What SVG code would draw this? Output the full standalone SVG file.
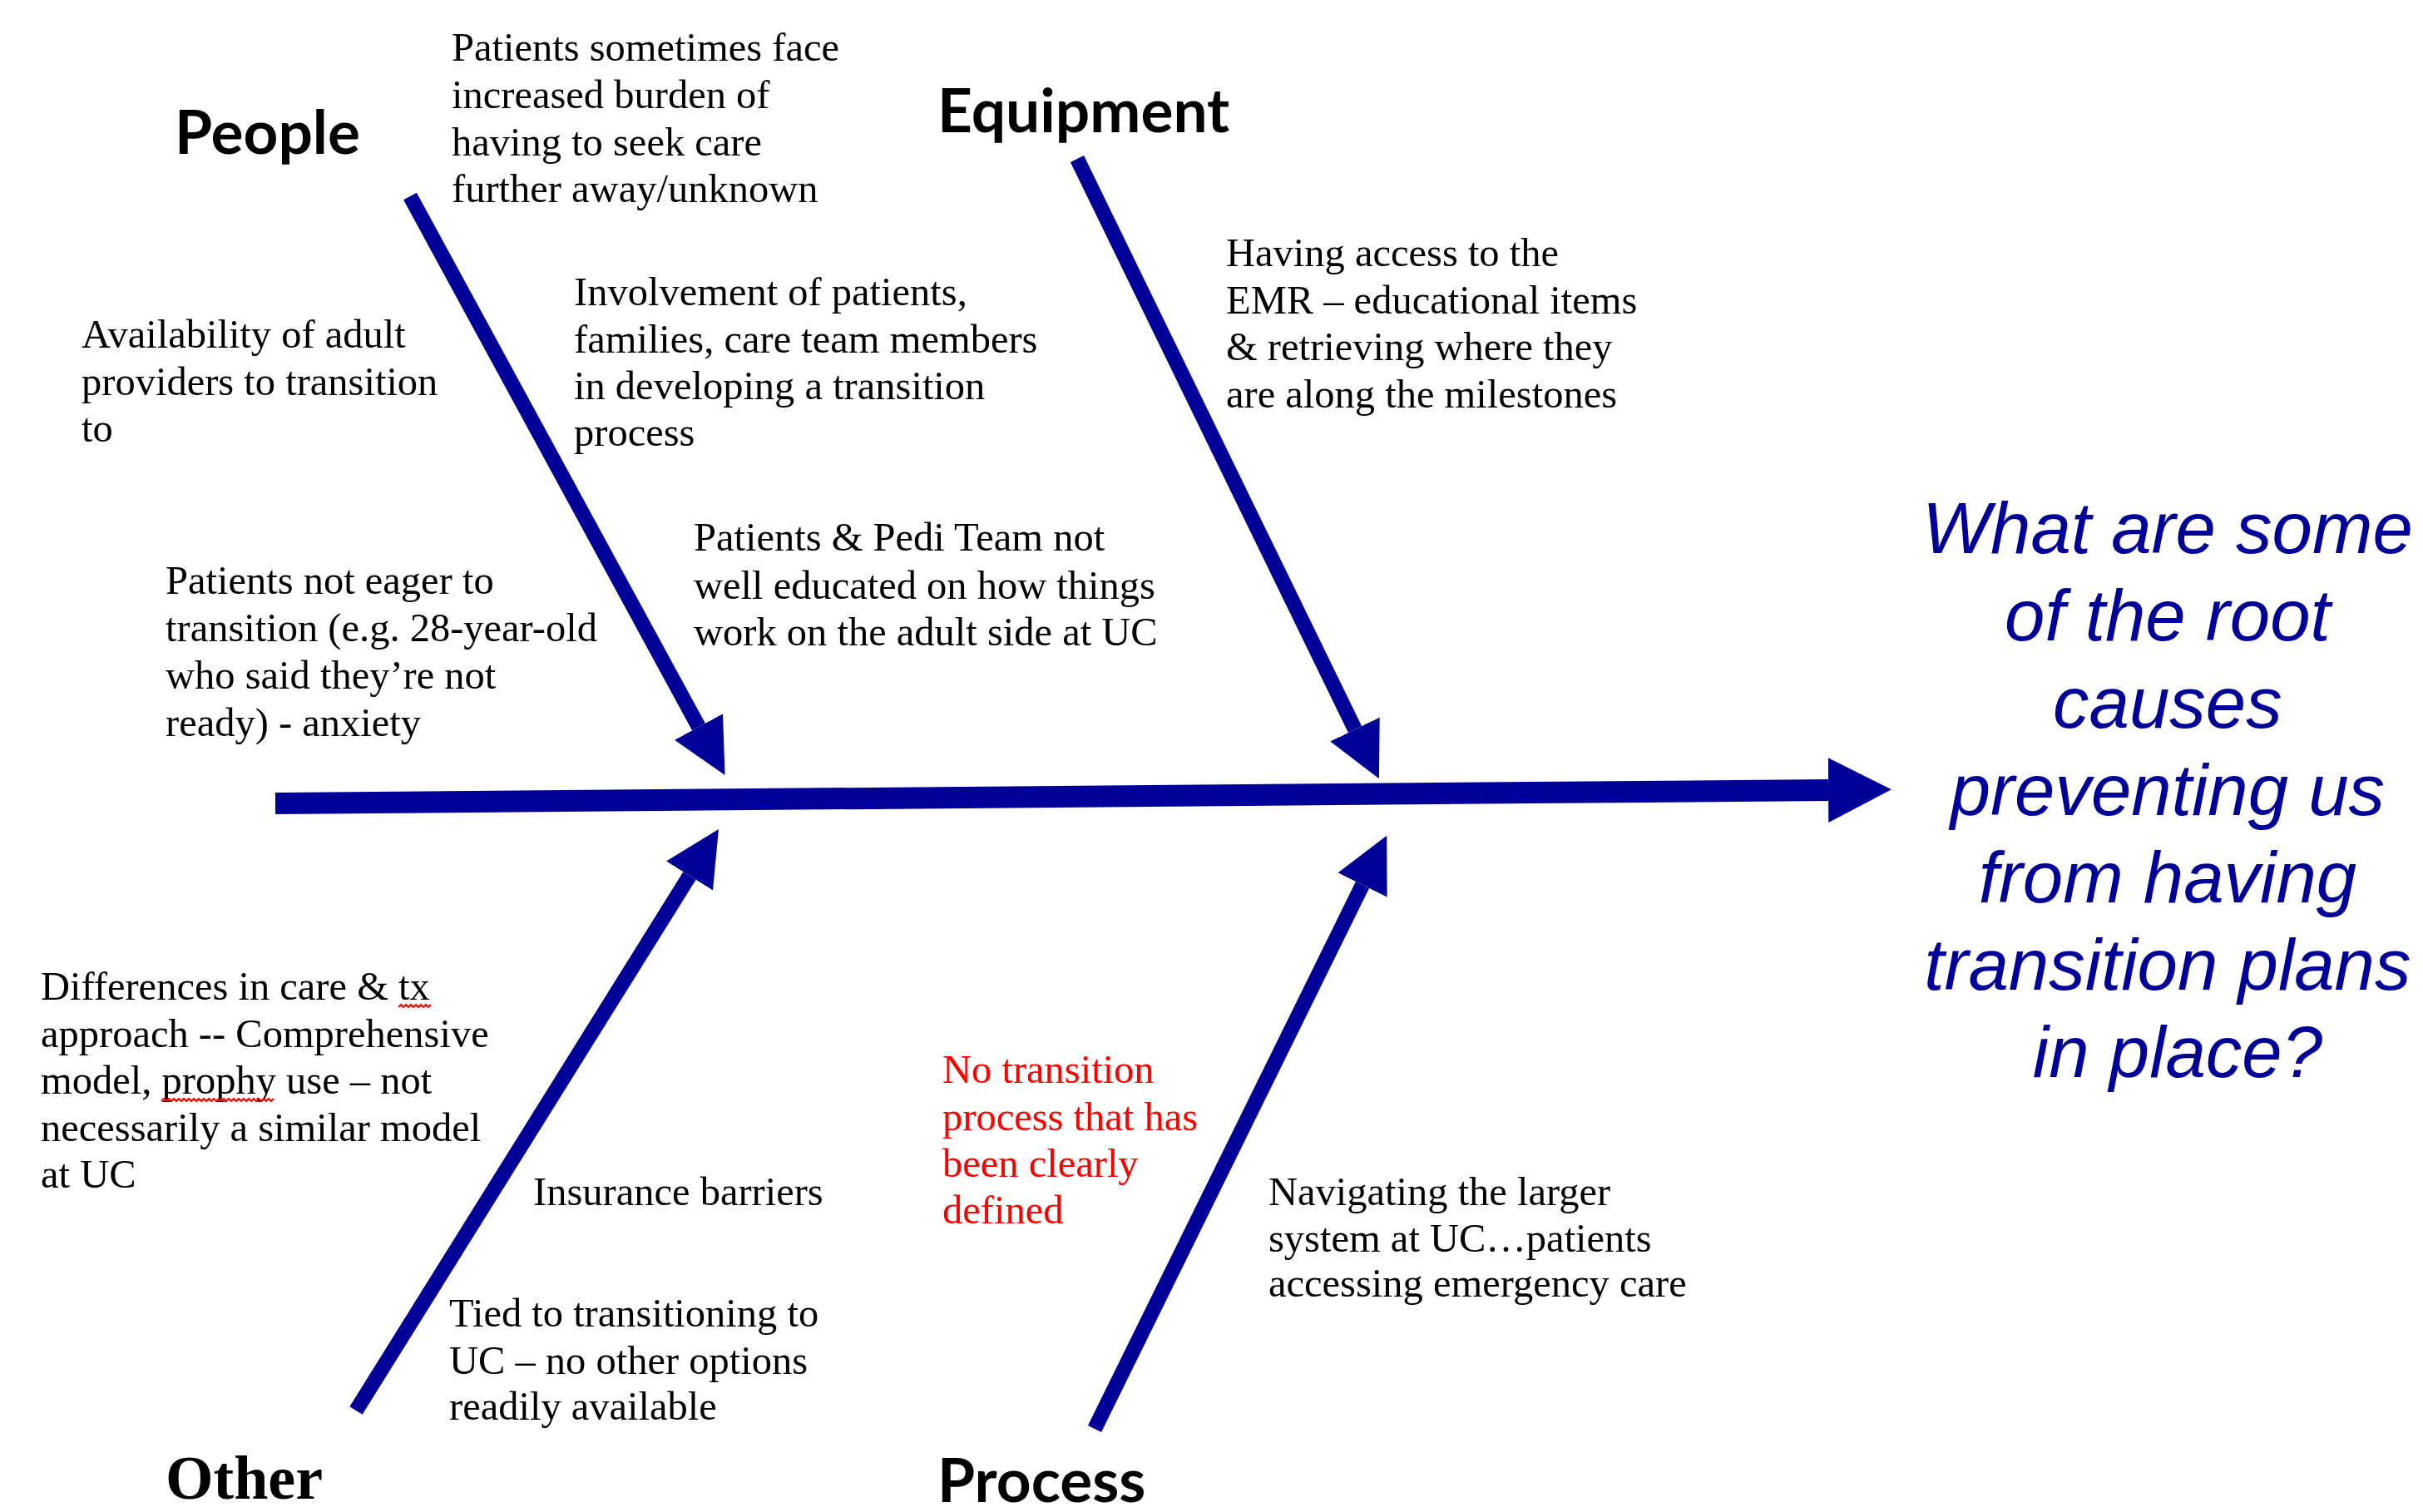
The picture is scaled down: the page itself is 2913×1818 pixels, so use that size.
<svg xmlns="http://www.w3.org/2000/svg" width="2913" height="1818" viewBox="0 0 2913 1818">
  <style>
    .note { font-family: "Liberation Serif", "Times New Roman", serif; font-size: 48.5px; fill: #000000; }
    .red { fill: #FF0000; }
    .cat { font-family: Lato, "Liberation Sans", sans-serif; font-weight: bold; font-size: 73px; fill: #000000; }
    .catserif { font-family: "Liberation Serif", "Times New Roman", serif; font-weight: bold; font-size: 74px; fill: #000000; }
    .question { font-family: "Liberation Sans", Arial, sans-serif; font-style: italic; font-size: 87px; fill: #000099; text-anchor: middle; }
    .bone { stroke: #000099; stroke-width: 18; fill: none; stroke-linecap: butt; }
    .spine { stroke: #000099; stroke-width: 26; fill: none; stroke-linecap: butt; }
    .squiggle { stroke: #FF0000; stroke-width: 2; fill: none; }
  </style>
  <defs>
    <marker id="boneHead" markerUnits="userSpaceOnUse" viewBox="0 -34 68 68" markerWidth="68" markerHeight="68" refX="0" refY="0" orient="auto">
      <path d="M0,-33 L66,0 L0,33 z" fill="#000099"/>
    </marker>
    <marker id="spineHead" markerUnits="userSpaceOnUse" viewBox="0 -40 78 80" markerWidth="78" markerHeight="80" refX="0" refY="0" orient="auto">
      <path d="M0,-39 L76,0 L0,39 z" fill="#000099"/>
    </marker>
  </defs>
  <rect x="0" y="0" width="2913" height="1818" fill="#FFFFFF"/>

  <g id="connectors">
    <path class="spine" d="M331,966 L2198,950" marker-end="url(#spineHead)"/>
    <path class="bone" d="M493,236 L840,874" marker-end="url(#boneHead)"/>
    <path class="bone" d="M1295,191 L1629,877" marker-end="url(#boneHead)"/>
    <path class="bone" d="M428,1696 L829,1053" marker-end="url(#boneHead)"/>
    <path class="bone" d="M1316,1718 L1638,1064" marker-end="url(#boneHead)"/>
  </g>

  <g id="people">
    <text class="cat" x="210" y="185">People</text>
  </g>
  <g id="equipment">
    <text class="cat" x="1127" y="159">Equipment</text>
  </g>
  <g id="process">
    <text class="cat" x="1127" y="1806">Process</text>
  </g>
  <g id="other">
    <text class="catserif" x="199" y="1802">Other</text>
  </g>

  <g id="question">
    <text class="question">
      <tspan x="2618" y="665">What are some</tspan>
      <tspan x="2618" y="770">of the root</tspan>
      <tspan x="2618" y="875">causes</tspan>
      <tspan x="2618" y="980">preventing us</tspan>
      <tspan x="2618" y="1085">from having</tspan>
      <tspan x="2618" y="1190">transition plans</tspan>
      <tspan x="2618" y="1295">in place?</tspan>
    </text>
  </g>

  <g id="cause-burden">
    <text class="note">
      <tspan x="543" y="73">Patients sometimes face</tspan>
      <tspan x="543" y="130">increased burden of</tspan>
      <tspan x="543" y="187">having to seek care</tspan>
      <tspan x="543" y="243">further away/unknown</tspan>
    </text>
  </g>
  <g id="cause-availability">
    <text class="note">
      <tspan x="98" y="418">Availability of adult</tspan>
      <tspan x="98" y="475">providers to transition</tspan>
      <tspan x="98" y="531">to</tspan>
    </text>
  </g>
  <g id="cause-involvement">
    <text class="note">
      <tspan x="690" y="367">Involvement of patients,</tspan>
      <tspan x="690" y="424">families, care team members</tspan>
      <tspan x="690" y="480">in developing a transition</tspan>
      <tspan x="690" y="536">process</tspan>
    </text>
  </g>
  <g id="cause-emr">
    <text class="note">
      <tspan x="1474" y="320">Having access to the</tspan>
      <tspan x="1474" y="377">EMR – educational items</tspan>
      <tspan x="1474" y="433">&amp; retrieving where they</tspan>
      <tspan x="1474" y="490">are along the milestones</tspan>
    </text>
  </g>
  <g id="cause-eager">
    <text class="note">
      <tspan x="199" y="714">Patients not eager to</tspan>
      <tspan x="199" y="771">transition (e.g. 28-year-old</tspan>
      <tspan x="199" y="828">who said they’re not</tspan>
      <tspan x="199" y="885">ready) - anxiety</tspan>
    </text>
  </g>
  <g id="cause-educated">
    <text class="note">
      <tspan x="834" y="662">Patients &amp; Pedi Team not</tspan>
      <tspan x="834" y="720">well educated on how things</tspan>
      <tspan x="834" y="776">work on the adult side at UC</tspan>
    </text>
  </g>
  <g id="cause-differences">
    <text class="note">
      <tspan x="49" y="1202">Differences in care &amp; tx</tspan>
      <tspan x="49" y="1259">approach -- Comprehensive</tspan>
      <tspan x="49" y="1315">model, prophy use – not</tspan>
      <tspan x="49" y="1372">necessarily a similar model</tspan>
      <tspan x="49" y="1428">at UC</tspan>
    </text>
    <path class="squiggle" d="M479,1211 l3,-3 l3,3 l3,-3 l3,3 l3,-3 l3,3 l3,-3 l3,3 l3,-3 l3,3 l3,-3 l3,3 l3,-3"/>
    <path class="squiggle" d="M194,1324 l3,-3 l3,3 l3,-3 l3,3 l3,-3 l3,3 l3,-3 l3,3 l3,-3 l3,3 l3,-3 l3,3 l3,-3 l3,3 l3,-3 l3,3 l3,-3 l3,3 l3,-3 l3,3 l3,-3 l3,3 l3,-3 l3,3 l3,-3 l3,3 l3,-3 l3,3 l3,-3 l3,3 l3,-3 l3,3 l3,-3 l3,3 l3,-3 l3,3 l3,-3 l3,3 l3,-3 l3,3 l3,-3 l3,3 l3,-3 l3,3 l3,-3"/>
  </g>
  <g id="cause-insurance">
    <text class="note" x="641" y="1449">Insurance barriers</text>
  </g>
  <g id="cause-tied">
    <text class="note">
      <tspan x="540" y="1595">Tied to transitioning to</tspan>
      <tspan x="540" y="1652">UC – no other options</tspan>
      <tspan x="540" y="1707">readily available</tspan>
    </text>
  </g>
  <g id="cause-no-process">
    <text class="note red">
      <tspan x="1133" y="1302">No transition</tspan>
      <tspan x="1133" y="1359">process that has</tspan>
      <tspan x="1133" y="1415">been clearly</tspan>
      <tspan x="1133" y="1471">defined</tspan>
    </text>
  </g>
  <g id="cause-navigating">
    <text class="note">
      <tspan x="1525" y="1449">Navigating the larger</tspan>
      <tspan x="1525" y="1505">system at UC…patients</tspan>
      <tspan x="1525" y="1559">accessing emergency care</tspan>
    </text>
  </g>
</svg>
